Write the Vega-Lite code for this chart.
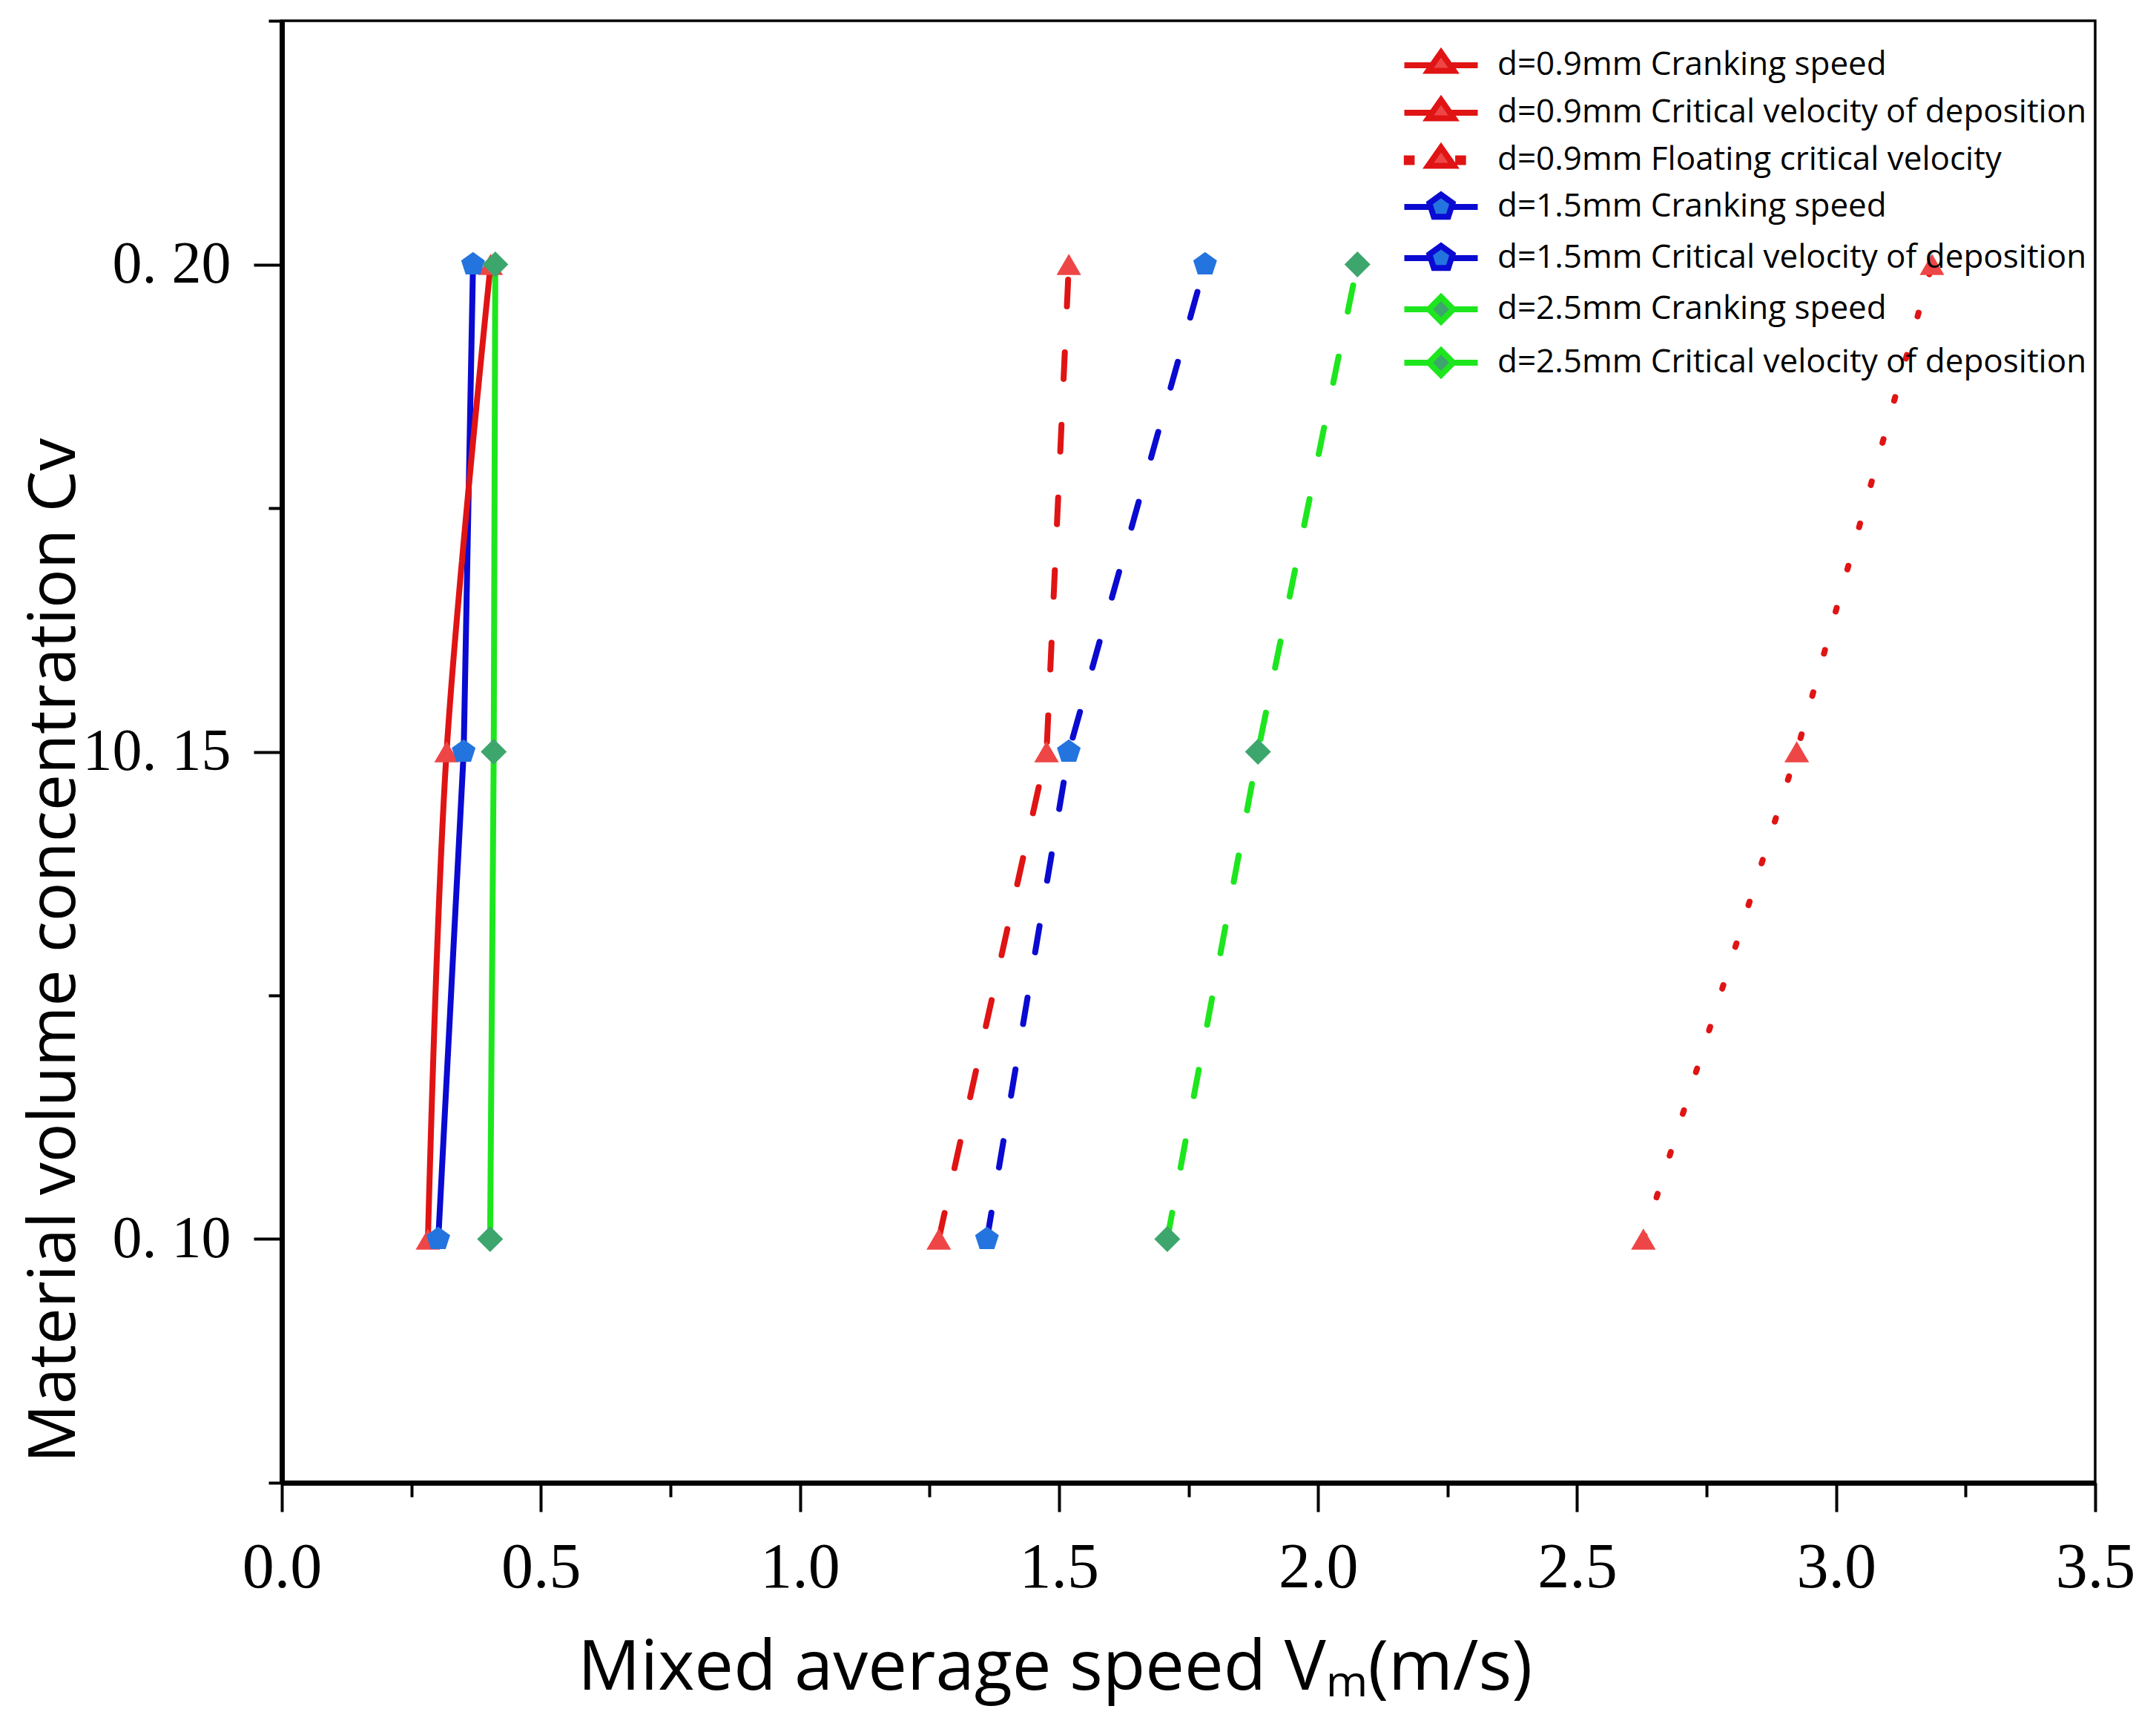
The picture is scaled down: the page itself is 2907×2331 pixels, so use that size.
{
  "$schema": "https://vega.github.io/schema/vega-lite/v6.json",
  "autosize": "none",
  "width": 2445,
  "height": 1971,
  "padding": {"left": 380, "top": 28, "right": 82, "bottom": 332},
  "background": "white",
  "data": {
    "values": [
      {"series": "d=0.9mm Cranking speed", "d": "0.9mm", "kind": "Cranking speed", "v": 0.282, "cv": 0.10},
      {"series": "d=0.9mm Cranking speed", "d": "0.9mm", "kind": "Cranking speed", "v": 0.318, "cv": 0.15},
      {"series": "d=0.9mm Cranking speed", "d": "0.9mm", "kind": "Cranking speed", "v": 0.403, "cv": 0.20},
      {"series": "d=0.9mm Critical velocity of deposition", "d": "0.9mm", "kind": "Critical velocity of deposition", "v": 1.268, "cv": 0.10},
      {"series": "d=0.9mm Critical velocity of deposition", "d": "0.9mm", "kind": "Critical velocity of deposition", "v": 1.476, "cv": 0.15},
      {"series": "d=0.9mm Critical velocity of deposition", "d": "0.9mm", "kind": "Critical velocity of deposition", "v": 1.519, "cv": 0.20},
      {"series": "d=0.9mm Floating critical velocity", "d": "0.9mm", "kind": "Floating critical velocity", "v": 2.628, "cv": 0.10},
      {"series": "d=0.9mm Floating critical velocity", "d": "0.9mm", "kind": "Floating critical velocity", "v": 2.924, "cv": 0.15},
      {"series": "d=0.9mm Floating critical velocity", "d": "0.9mm", "kind": "Floating critical velocity", "v": 3.185, "cv": 0.20},
      {"series": "d=1.5mm Cranking speed", "d": "1.5mm", "kind": "Cranking speed", "v": 0.302, "cv": 0.10},
      {"series": "d=1.5mm Cranking speed", "d": "1.5mm", "kind": "Cranking speed", "v": 0.351, "cv": 0.15},
      {"series": "d=1.5mm Cranking speed", "d": "1.5mm", "kind": "Cranking speed", "v": 0.369, "cv": 0.20},
      {"series": "d=1.5mm Critical velocity of deposition", "d": "1.5mm", "kind": "Critical velocity of deposition", "v": 1.361, "cv": 0.10},
      {"series": "d=1.5mm Critical velocity of deposition", "d": "1.5mm", "kind": "Critical velocity of deposition", "v": 1.519, "cv": 0.15},
      {"series": "d=1.5mm Critical velocity of deposition", "d": "1.5mm", "kind": "Critical velocity of deposition", "v": 1.782, "cv": 0.20},
      {"series": "d=2.5mm Cranking speed", "d": "2.5mm", "kind": "Cranking speed", "v": 0.402, "cv": 0.10},
      {"series": "d=2.5mm Cranking speed", "d": "2.5mm", "kind": "Cranking speed", "v": 0.409, "cv": 0.15},
      {"series": "d=2.5mm Cranking speed", "d": "2.5mm", "kind": "Cranking speed", "v": 0.412, "cv": 0.20},
      {"series": "d=2.5mm Critical velocity of deposition", "d": "2.5mm", "kind": "Critical velocity of deposition", "v": 1.709, "cv": 0.10},
      {"series": "d=2.5mm Critical velocity of deposition", "d": "2.5mm", "kind": "Critical velocity of deposition", "v": 1.884, "cv": 0.15},
      {"series": "d=2.5mm Critical velocity of deposition", "d": "2.5mm", "kind": "Critical velocity of deposition", "v": 2.076, "cv": 0.20}
    ]
  },
  "encoding": {
    "x": {
      "field": "v",
      "type": "quantitative",
      "scale": {"domain": [0, 3.5], "nice": false, "zero": false},
      "axis": {
        "values": [0, 0.25, 0.5, 0.75, 1, 1.25, 1.5, 1.75, 2, 2.25, 2.5, 2.75, 3, 3.25, 3.5],
        "labelExpr": "abs(datum.value * 2 - round(datum.value * 2)) < 0.001 ? format(datum.value, '.1f') : ''",
        "tickSize": {"condition": {"test": "abs(datum.value * 2 - round(datum.value * 2)) < 0.001", "value": 39}, "value": 19},
        "tickWidth": 4,
        "tickColor": "black",
        "domainWidth": 7,
        "domainColor": "black",
        "grid": false,
        "labelFont": "Liberation Serif",
        "labelFontSize": 86,
        "labelPadding": 33,
        "labelColor": "black",
        "labelFlush": false,
        "labelOverlap": false,
        "labelLimit": 1000,
        "title": "Mixed average speed Vₘ(m/s)",
        "titleFont": "Open Sans",
        "titleFontSize": 94,
        "titleFontWeight": "normal",
        "titleColor": "black",
        "titleX": 1042,
        "titleY": 278,
        "titleAlign": "center",
        "titleBaseline": "alphabetic"
      }
    },
    "y": {
      "field": "cv",
      "type": "quantitative",
      "scale": {"domain": [0.075, 0.225], "nice": false, "zero": false},
      "axis": {
        "values": [0.075, 0.1, 0.125, 0.15, 0.175, 0.2, 0.225],
        "labelExpr": "abs(datum.value - 0.2) < 0.001 ? '0. 20' : abs(datum.value - 0.15) < 0.001 ? '10. 15' : abs(datum.value - 0.1) < 0.001 ? '0. 10' : ''",
        "tickSize": {"condition": {"test": "abs(datum.value * 20 - round(datum.value * 20)) < 0.001", "value": 38}, "value": 18},
        "tickWidth": 4,
        "tickColor": "black",
        "domainWidth": 7,
        "domainColor": "black",
        "grid": false,
        "labelFont": "Liberation Serif",
        "labelFontSize": 80,
        "labelPadding": 31,
        "labelColor": "black",
        "labelFlush": false,
        "labelOverlap": false,
        "labelLimit": 1000,
        "title": "Material volume concentration Cv",
        "titleFont": "Open Sans",
        "titleFontSize": 88,
        "titleFontWeight": "normal",
        "titleColor": "black",
        "titleX": -280,
        "titleY": 1253,
        "titleAlign": "center",
        "titleBaseline": "alphabetic"
      }
    }
  },
  "layer": [
    {
      "transform": [{"filter": "datum.series != 'd=0.9mm Cranking speed'"}],
      "mark": {"type": "line", "strokeWidth": 8, "strokeCap": "round"},
      "encoding": {
        "detail": {"field": "series"},
        "color": {
          "field": "d",
          "type": "nominal",
          "scale": {"domain": ["0.9mm", "1.5mm", "2.5mm"], "range": ["#e01414", "#0a0ad2", "#1ee61e"]},
          "legend": null
        },
        "strokeDash": {
          "field": "kind",
          "type": "nominal",
          "scale": {
            "domain": ["Cranking speed", "Critical velocity of deposition", "Floating critical velocity"],
            "range": [[1, 0], [36, 62], [5, 54]]
          },
          "legend": null
        }
      }
    },
    {
      "transform": [{"filter": "datum.series == 'd=0.9mm Cranking speed'"}],
      "mark": {"type": "line", "strokeWidth": 8, "strokeCap": "round", "interpolate": "catmull-rom"},
      "encoding": {
        "color": {"field": "d", "type": "nominal", "legend": null},
        "strokeDash": {"field": "kind", "type": "nominal", "legend": null}
      }
    },
    {
      "transform": [{"filter": "datum.d == '0.9mm'"}],
      "mark": {"type": "point", "filled": true, "opacity": 1, "size": 1100, "shape": "triangle-up", "fill": "#ee4646"},
      "encoding": {}
    },
    {
      "transform": [{"filter": "datum.d == '1.5mm'"}],
      "mark": {"type": "point", "filled": true, "opacity": 1, "size": 1130, "shape": "M0,-1L0.951,-0.309L0.588,0.809L-0.588,0.809L-0.951,-0.309Z", "fill": "#2474e0"},
      "encoding": {}
    },
    {
      "transform": [{"filter": "datum.d == '2.5mm'"}],
      "mark": {"type": "point", "filled": true, "opacity": 1, "size": 1225, "shape": "diamond", "fill": "#3da66c"},
      "encoding": {}
    },
    {
      "mark": {"type": "point", "filled": true, "opacity": 0, "size": 1089},
      "encoding": {
        "fill": {
          "field": "series",
          "type": "nominal",
          "scale": {
            "domain": ["d=0.9mm Cranking speed", "d=0.9mm Critical velocity of deposition", "d=0.9mm Floating critical velocity", "d=1.5mm Cranking speed", "d=1.5mm Critical velocity of deposition", "d=2.5mm Cranking speed", "d=2.5mm Critical velocity of deposition"],
            "range": ["#ee4646", "#ee4646", "#ee4646", "#2474e0", "#2474e0", "#3da66c", "#3da66c"]
          },
          "legend": {
            "orient": "none", "legendX": 1541, "legendY": 38, "title": null, "padding": 0,
            "labelFont": "Open Sans", "labelFontSize": 44, "labelColor": "black", "labelLimit": 2000,
            "labelOffset": 54, "rowPadding": 6, "symbolSize": 1089, "symbolStrokeWidth": 8, "symbolOpacity": 1
          }
        },
        "stroke": {
          "field": "series",
          "type": "nominal",
          "scale": {
            "domain": ["d=0.9mm Cranking speed", "d=0.9mm Critical velocity of deposition", "d=0.9mm Floating critical velocity", "d=1.5mm Cranking speed", "d=1.5mm Critical velocity of deposition", "d=2.5mm Cranking speed", "d=2.5mm Critical velocity of deposition"],
            "range": ["#e01414", "#e01414", "#e01414", "#0a0ad2", "#0a0ad2", "#1ee61e", "#1ee61e"]
          },
          "legend": {
            "orient": "none", "legendX": 1541, "legendY": 38, "title": null, "padding": 0,
            "labelFont": "Open Sans", "labelFontSize": 44, "labelColor": "black", "labelLimit": 2000,
            "labelOffset": 54, "rowPadding": 6, "symbolSize": 1089, "symbolStrokeWidth": 8, "symbolOpacity": 1
          }
        },
        "shape": {
          "field": "series",
          "type": "nominal",
          "scale": {
            "domain": ["d=0.9mm Cranking speed", "d=0.9mm Critical velocity of deposition", "d=0.9mm Floating critical velocity", "d=1.5mm Cranking speed", "d=1.5mm Critical velocity of deposition", "d=2.5mm Cranking speed", "d=2.5mm Critical velocity of deposition"],
            "range": [
              "M-3,0H-0.75M0.75,0H3M0,-1.05L1.05,0.45L-1.05,0.45Z",
              "M-3,0H-0.75M0.75,0H3M0,-1.05L1.05,0.45L-1.05,0.45Z",
              "M-2.8,-0.15H-2.4V0.15H-2.8ZM1.4,-0.15H1.8V0.15H1.4ZM0,-1.05L1.05,0.45L-1.05,0.45Z",
              "M-3,0H-0.85M0.85,0H3M0,-1L0.95,-0.31L0.59,0.81L-0.59,0.81L-0.95,-0.31Z",
              "M-3,0H-0.85M0.85,0H3M0,-1L0.95,-0.31L0.59,0.81L-0.59,0.81L-0.95,-0.31Z",
              "M-3,0H-0.95M0.95,0H3M-1,0L0,-1L1,0L0,1Z",
              "M-3,0H-0.95M0.95,0H3M-1,0L0,-1L1,0L0,1Z"
            ]
          },
          "legend": {
            "orient": "none", "legendX": 1541, "legendY": 38, "title": null, "padding": 0,
            "labelFont": "Open Sans", "labelFontSize": 44, "labelColor": "black", "labelLimit": 2000,
            "labelOffset": 54, "rowPadding": 6, "symbolSize": 1089, "symbolStrokeWidth": 8, "symbolOpacity": 1
          }
        }
      }
    }
  ],
  "config": {
    "view": {"stroke": "black", "strokeWidth": 3.5}
  }
}
